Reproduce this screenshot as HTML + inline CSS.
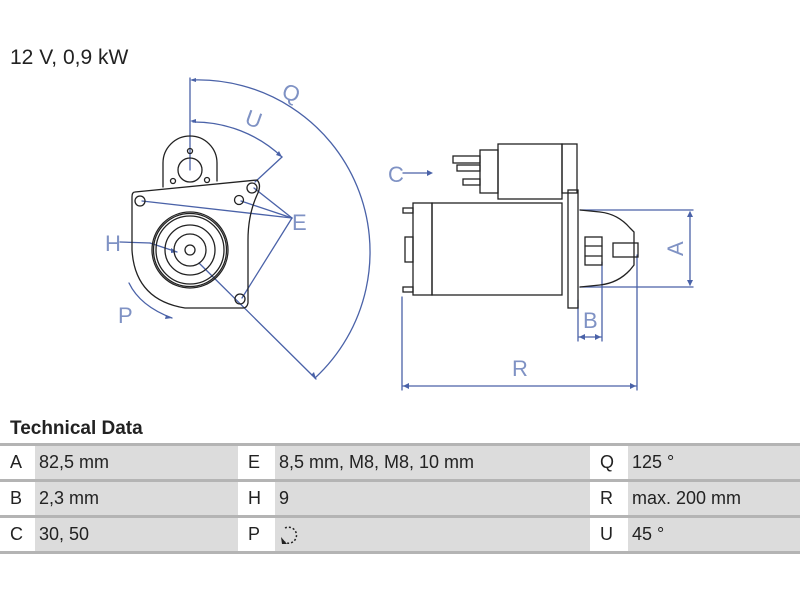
<!DOCTYPE html>
<html><head><meta charset="utf-8"><style>
body{margin:0;width:800px;height:600px;background:#fff;font-family:"Liberation Sans",sans-serif;overflow:hidden;position:relative}
.t{position:absolute;left:10px;top:46px;font-size:21px;color:#222}
.h{position:absolute;left:10px;top:418px;font-size:19px;font-weight:bold;color:#222}
table{position:absolute;left:0;top:443px;width:800px;border-collapse:collapse;table-layout:fixed;font-size:18px;color:#222}
td{height:33px;border-top:3px solid #b4b4b4;border-bottom:3px solid #b4b4b4;padding:0 0 0 4px;overflow:hidden;white-space:nowrap}
td.l{background:#fff;padding-left:10px}
td.v{background:#dcdcdc}
</style></head><body>
<div class="t">12 V, 0,9 kW</div>
<svg width="800" height="410" style="position:absolute;left:0;top:0" fill="none" stroke-linecap="round">
<g stroke="#4a62a8" stroke-width="1.3">
<line x1="190" y1="78" x2="190" y2="170"/>
<path d="M192 80 A172 172 0 0 1 315 378"/>
<path d="M193 122 A128 128 0 0 1 282 157"/>
<line x1="282" y1="157" x2="255" y2="182"/>
<line x1="199" y1="263" x2="316" y2="379"/>
<line x1="142" y1="201" x2="292" y2="218"/>
<line x1="241" y1="201" x2="292" y2="218"/>
<line x1="254" y1="188" x2="292" y2="218"/>
<line x1="242" y1="298" x2="292" y2="218"/>
<line x1="120" y1="242" x2="150" y2="243"/><line x1="150" y1="243" x2="177" y2="252"/>
<path d="M129 283 Q140 306 172 318"/>
<line x1="403" y1="173" x2="428" y2="173"/>
<line x1="580" y1="210" x2="693" y2="210"/><line x1="580" y1="287" x2="693" y2="287"/>
<line x1="690" y1="212" x2="690" y2="285"/>
<line x1="578" y1="300" x2="578" y2="341"/><line x1="602" y1="262" x2="602" y2="341"/>
<line x1="579" y1="337" x2="601" y2="337"/>
<line x1="402" y1="297" x2="402" y2="390"/><line x1="637" y1="255" x2="637" y2="390"/>
<line x1="403" y1="386" x2="636" y2="386"/>
</g>
<g fill="#4a62a8">
<path d="M190 80 l6 -2 v4z"/><path d="M190 121 l6 -2 v4z"/><path d="M282 157 l-3 -6 l-3 4z"/>
<path d="M316 379 l-2 -7 l-3 3z"/><path d="M177 252 l-6 -4 v5z"/><path d="M172 318 l-6 -3 l-1 4z"/>
<path d="M433 173 l-6 -3 v6z"/><path d="M690 211 l-3 6 h6z"/><path d="M690 286 l-3 -6 h6z"/>
<path d="M579 337 l6 -3 v6z"/><path d="M601 337 l-6 -3 v6z"/><path d="M403 386 l6 -3 v6z"/><path d="M636 386 l-6 -3 v6z"/>
</g>
<g fill="#7f92c4" font-family="Liberation Sans" font-size="22">
<text x="283" y="100" transform="rotate(20 290 92)">Q</text>
<text x="246" y="126" transform="rotate(20 252 118)">U</text>
<text x="292" y="230">E</text>
<text x="105" y="251">H</text>
<text x="118" y="323">P</text>
<text x="388" y="182">C</text>
<text x="583" y="328">B</text>
<text x="512" y="376">R</text>
<text x="0" y="0" transform="translate(683,256) rotate(-90)">A</text>
</g>
<g stroke="#222" stroke-width="1.3">
<path d="M163 187 V163 A27 27 0 0 1 217 163 V181"/>
<circle cx="190" cy="170" r="12"/><circle cx="190" cy="151" r="2.5"/><circle cx="173" cy="181" r="2.5"/><circle cx="207" cy="180" r="2.5"/>
<path d="M135 192 L257 180 Q262 185 257 195 Q248 215 248 240 L248 303 Q247 308 243 308 L185 308 Q135 300 132 250 L132 197 Q132 192 135 192Z"/>
<circle cx="140" cy="201" r="5"/><circle cx="239" cy="200" r="4.5"/><circle cx="252" cy="188" r="5"/><circle cx="240" cy="299" r="5"/>
<circle cx="190" cy="250" r="38"/><circle cx="190" cy="250" r="36.5"/><circle cx="190" cy="250" r="34"/>
<circle cx="190" cy="250" r="25"/><circle cx="190" cy="250" r="16"/><circle cx="190" cy="250" r="5"/>
<rect x="498" y="144" width="64" height="55"/><rect x="480" y="150" width="18" height="43"/><rect x="562" y="144" width="15" height="49"/>
<rect x="453" y="156" width="27" height="7"/><rect x="457" y="165" width="23" height="6"/><rect x="463" y="179" width="17" height="6"/>
<rect x="432" y="203" width="130" height="92"/><rect x="413" y="203" width="19" height="92"/>
<rect x="403" y="208" width="10" height="5"/><rect x="403" y="287" width="10" height="5"/><rect x="405" y="237" width="8" height="25"/>
<rect x="568" y="190" width="10" height="118"/>
<path d="M580 210 L600 212 Q618 214 630 228 L634 232 V265 L630 270 Q618 283 600 285 L580 287"/>
<rect x="585" y="237" width="17" height="28"/><line x1="585" y1="246" x2="602" y2="246"/><line x1="585" y1="256" x2="602" y2="256"/>
<rect x="613" y="243" width="25" height="14"/>
</g>
</svg>
<div class="h">Technical Data</div>
<table>
<colgroup><col style="width:35px"><col style="width:203px"><col style="width:37px"><col style="width:315px"><col style="width:38px"><col></colgroup>
<tr><td class="l">A</td><td class="v">82,5 mm</td><td class="l">E</td><td class="v">8,5 mm, M8, M8, 10 mm</td><td class="l">Q</td><td class="v">125 °</td></tr>
<tr><td class="l">B</td><td class="v">2,3 mm</td><td class="l">H</td><td class="v">9</td><td class="l">R</td><td class="v">max. 200 mm</td></tr>
<tr><td class="l">C</td><td class="v">30, 50</td><td class="l">P</td><td class="v"><svg width="20" height="22" viewBox="0 0 20 22" style="vertical-align:middle"><path d="M6 4 A8 8 0 1 1 4 17" fill="none" stroke="#222" stroke-width="1.5" stroke-dasharray="2 2"/><path d="M2 13 L8 20 L3 20Z" fill="#222"/></svg></td><td class="l">U</td><td class="v">45 °</td></tr>
</table>
</body></html>
